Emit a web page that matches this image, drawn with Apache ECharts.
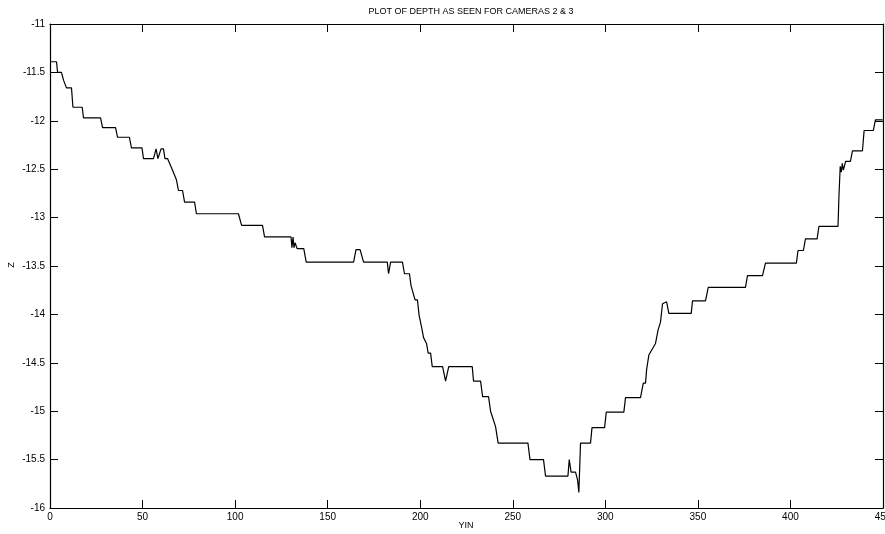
<!DOCTYPE html>
<html>
<head>
<meta charset="utf-8">
<script src="https://cdn.jsdelivr.net/npm/echarts@6/dist/echarts.min.js"></script>
<style>
  html, body { margin: 0; padding: 0; background: #fff; }
  #chart { width: 885px; height: 534px; }
</style>
</head>
<body>
<div id="chart"></div>
<script>
// vertices of the depth trace
const yin = [0.5, 3.5, 4.1, 6.2, 7.3, 8.9, 11.6, 12.4, 17.4, 18.1,
  27.3, 28.4, 35.4, 36.5, 42.9, 44.0, 49.7, 50.5, 55.9, 57.3,
  58.3, 60.0, 61.3, 62.1, 63.5, 66.2, 68.3, 69.4, 71.6, 72.7,
  78.1, 79.1, 101.8, 103.5, 114.8, 115.9, 130.2, 130.7, 131.3, 131.8,
  132.4, 133.5, 137.1, 138.4, 164.0, 165.3, 167.5, 169.4, 182.2, 182.9,
  184.0, 190.4, 191.5, 194.2, 195.0, 197.2, 198.5, 199.4, 200.7, 201.8,
  203.4, 204.3, 205.6, 206.5, 212.1, 213.7, 215.4, 228.1, 228.8, 232.6,
  233.7, 236.9, 238.0, 240.7, 242.1, 258.2, 259.3, 266.6, 267.7, 279.8,
  280.5, 281.5, 283.9, 285.0, 285.7, 286.6, 292.0, 292.8, 299.6, 300.5,
  310.0, 310.9, 319.0, 320.5, 321.7, 322.3, 323.5, 324.4, 327.1, 328.5,
  329.8, 330.9, 331.4, 333.1, 334.3, 346.4, 347.1, 354.1, 355.6, 375.7,
  376.8, 384.9, 386.5, 403.2, 404.1, 407.0, 408.1, 414.4, 415.4, 425.7,
  426.2, 426.9, 427.5, 428.0, 428.6, 429.8, 432.4, 433.5, 438.9, 439.8,
  444.8, 445.9, 449.8]

const depth = [-11.39, -11.39, -11.50, -11.50, -11.58, -11.66, -11.66, -11.86, -11.86, -11.97,
  -11.97, -12.07, -12.07, -12.17, -12.17, -12.28, -12.28, -12.39, -12.39, -12.29,
  -12.39, -12.29, -12.29, -12.39, -12.39, -12.51, -12.61, -12.72, -12.72, -12.84,
  -12.84, -12.96, -12.96, -13.08, -13.08, -13.20, -13.20, -13.31, -13.20, -13.31,
  -13.26, -13.32, -13.32, -13.46, -13.46, -13.33, -13.33, -13.46, -13.46, -13.58,
  -13.46, -13.46, -13.58, -13.58, -13.70, -13.85, -13.85, -14.01, -14.13, -14.24,
  -14.30, -14.40, -14.40, -14.54, -14.54, -14.69, -14.54, -14.54, -14.69, -14.69,
  -14.85, -14.85, -15.00, -15.16, -15.33, -15.33, -15.50, -15.50, -15.67, -15.67,
  -15.50, -15.63, -15.63, -15.71, -15.84, -15.33, -15.33, -15.17, -15.17, -15.01,
  -15.01, -14.86, -14.86, -14.71, -14.71, -14.57, -14.42, -14.42, -14.30, -14.16,
  -14.08, -13.89, -13.87, -13.87, -13.99, -13.99, -13.86, -13.86, -13.72, -13.72,
  -13.60, -13.60, -13.47, -13.47, -13.34, -13.34, -13.22, -13.22, -13.09, -13.09,
  -12.78, -12.47, -12.53, -12.44, -12.51, -12.42, -12.42, -12.31, -12.31, -12.10,
  -12.10, -11.99, -11.99]

const xRange = [0, 450, 50]
const yRange = [-16, -11, 0.5]

const font = 'Liberation Sans, Arial, sans-serif'
const chart = echarts.init(document.getElementById('chart'))

const tickIn = { show: true, inside: true, length: 8, lineStyle: { color: '#000', width: 1 } }
const axisLine = { show: true, onZero: false, lineStyle: { color: '#000', width: 1.2 } }

function xAxis(position, labels) {
  return {
    type: 'value',
    position,
    min: xRange[0],
    max: xRange[1],
    interval: xRange[2],
    axisLine,
    axisTick: tickIn,
    splitLine: { show: false },
    axisLabel: {
      show: labels,
      color: '#000',
      fontSize: 10,
      fontFamily: font,
      margin: 4,
    },
  }
}

function yAxis(position, labels) {
  return {
    type: 'value',
    position,
    min: yRange[0],
    max: yRange[1],
    interval: yRange[2],
    axisLine,
    axisTick: tickIn,
    splitLine: { show: false },
    axisLabel: {
      show: labels,
      color: '#000',
      fontSize: 10,
      fontFamily: font,
      margin: 5,
    },
  }
}

const nameStyle = { fill: '#000', fontSize: 9, fontFamily: font, align: 'center', verticalAlign: 'middle' }

chart.setOption({
  backgroundColor: '#fff',
  animation: false,
  title: {
    text: 'PLOT OF DEPTH AS SEEN FOR CAMERAS 2 & 3',
    left: 466,
    top: 2,
    textAlign: 'center',
    textStyle: { color: '#000', fontSize: 9, fontWeight: 'normal', fontFamily: font },
  },
  // axis titles
  graphic: [
    { type: 'text', x: 466, y: 526, style: { text: 'YIN', ...nameStyle } },
    { type: 'text', x: 12, y: 265, rotation: Math.PI / 2, style: { text: 'Z', ...nameStyle } },
  ],
  grid: { left: 50, right: 2, top: 24, bottom: 26, containLabel: false, outerBoundsMode: 'none' },
  xAxis: [xAxis('bottom', true), xAxis('top', false)],
  yAxis: [yAxis('left', true), yAxis('right', false)],
  series: [
    {
      type: 'line',
      xAxisIndex: 0,
      yAxisIndex: 0,
      data: yin.map((x, i) => [x, depth[i]]),
      symbol: 'none',
      lineStyle: { color: '#000', width: 1.2 },
    },
  ],
})
</script>
</body>
</html>
